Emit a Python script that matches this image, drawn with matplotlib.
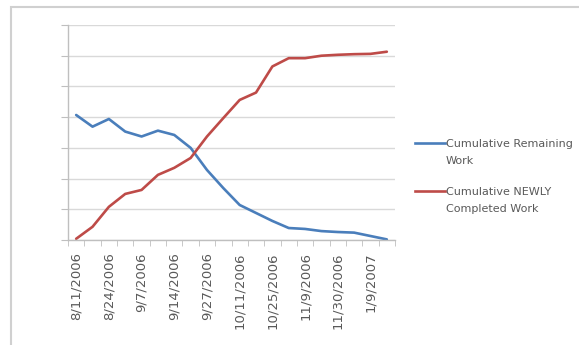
import matplotlib
matplotlib.use("Agg")
import matplotlib.pyplot as plt
from matplotlib.patches import Rectangle
from matplotlib.lines import Line2D

dates = ["8/11/2006", "8/17/2006", "8/24/2006", "8/31/2006", "9/7/2006",
         "9/11/2006", "9/14/2006", "9/21/2006", "9/27/2006", "10/4/2006",
         "10/11/2006", "10/18/2006", "10/25/2006", "11/1/2006", "11/9/2006",
         "11/16/2006", "11/30/2006", "12/14/2006", "1/9/2007", "1/18/2007"]

remaining = [40.7, 36.9, 39.4, 35.3, 33.7, 35.6, 34.2, 30.0, 22.8, 16.9,
             11.4, 8.8, 6.2, 3.9, 3.6, 2.9, 2.6, 2.4, 1.3, 0.2]
completed = [0.4, 4.3, 10.8, 15.0, 16.3, 21.2, 23.5, 26.7, 33.7, 39.7,
             45.6, 48.0, 56.5, 59.2, 59.2, 60.0, 60.3, 60.5, 60.6, 61.3]

series_names = ["Cumulative Remaining\nWork", "Cumulative NEWLY\nCompleted Work"]
series_colors = ["#4A7EBB", "#BE4B48"]

text_gray = "#595959"
W, H = 579, 345

fig = plt.figure(figsize=(W / 100, H / 100), dpi=100)
fig.patch.set_facecolor("white")

# outer chart frame
fig.add_artist(Rectangle((11 / W, -0.05), 1.0, 1 - 7 / H + 0.05,
                         transform=fig.transFigure, fill=False,
                         edgecolor="#d0d0d0", linewidth=1.5))

ax = fig.add_axes([68 / W, 1 - 240 / H, (395 - 68) / W, (240 - 25) / H])
x = list(range(len(dates)))
for vals, name, col in zip([remaining, completed], series_names, series_colors):
    ax.plot(x, vals, color=col, linewidth=1.9, label=name, solid_capstyle="round")

ax.set_xlim(-0.5, len(dates) - 0.5)
ax.set_ylim(0, 70)
ax.set_yticks(range(0, 71, 10))
ax.yaxis.grid(True, color="#d9d9d9", linewidth=1.0)
ax.set_axisbelow(True)
ax.tick_params(axis="y", length=5, color="#bfbfbf", labelleft=False)

ax.set_xticks(x[::2])
ax.set_xticklabels(dates[::2], rotation=90, fontfamily="DejaVu Sans",
                   fontsize=9.5, color=text_gray)
ax.set_xticks([i - 0.5 for i in range(len(dates) + 1)], minor=True)
ax.tick_params(axis="x", which="major", length=0, pad=9)
ax.tick_params(axis="x", which="minor", length=4, color="#bfbfbf")

for side in ["top", "right"]:
    ax.spines[side].set_visible(False)
for side in ["left", "bottom"]:
    ax.spines[side].set_color("#bfbfbf")
    ax.spines[side].set_linewidth(1.0)

# legend: swatch aligned with the first text line of each entry
for k, (name, col) in enumerate(zip(series_names, series_colors)):
    yk = 1 - (143 + 48 * k) / H
    fig.add_artist(Line2D([415 / W, 445 / W], [yk, yk], transform=fig.transFigure,
                          color=col, linewidth=1.9))
    fig.text(446 / W, yk + 4 / H, name, transform=fig.transFigure, ha="left",
             va="top", fontsize=8.0, color=text_gray, linespacing=1.85,
             fontfamily="DejaVu Sans")

fig.savefig("out.png", dpi=100)
